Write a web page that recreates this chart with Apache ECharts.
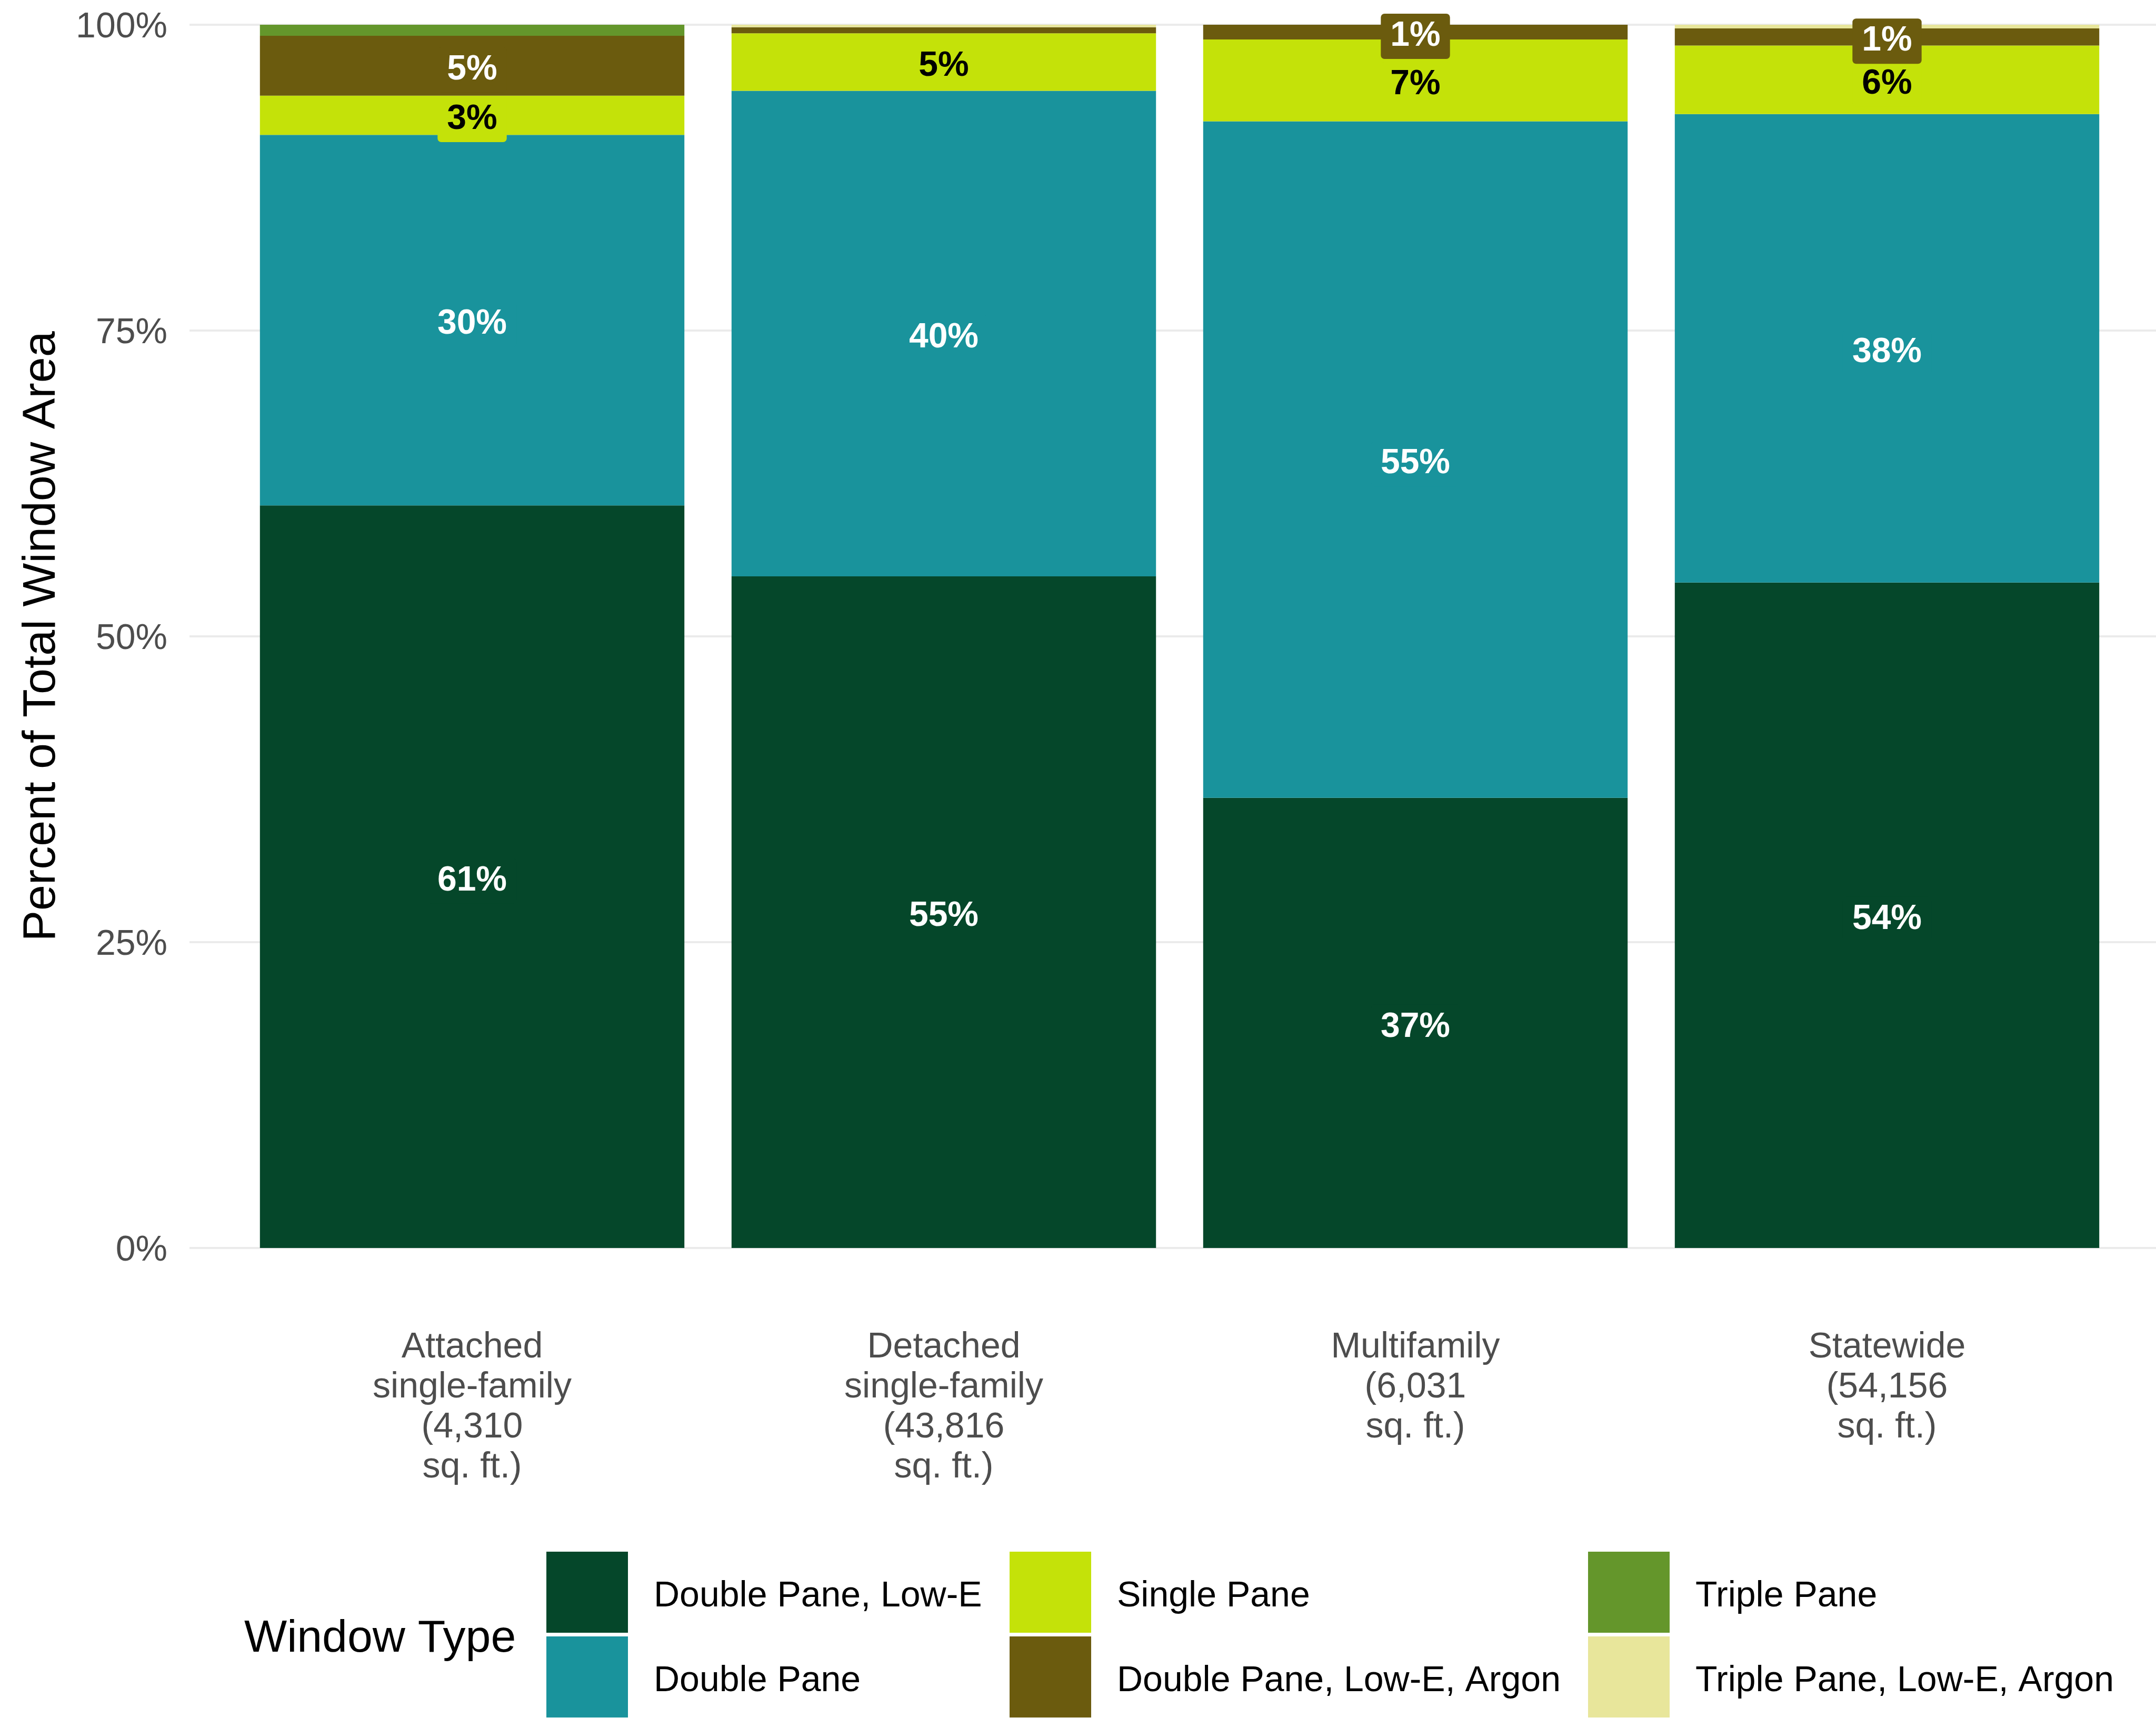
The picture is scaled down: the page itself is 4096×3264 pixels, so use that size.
<!DOCTYPE html>
<html>
<head>
<meta charset="utf-8">
<script src="https://cdn.jsdelivr.net/npm/echarts@6/dist/echarts.min.js"></script>
<style>
  html, body { margin: 0; padding: 0; background: #ffffff; }
  #chart { width: 4096px; height: 3264px; }
</style>
</head>
<body>
<div id="chart"></div>
<script>
// Building types on the x axis (with total window area in sq. ft.)
const categories = [
  'Attached\nsingle-family\n(4,310\nsq. ft.)',
  'Detached\nsingle-family\n(43,816\nsq. ft.)',
  'Multifamily\n(6,031\nsq. ft.)',
  'Statewide\n(54,156\nsq. ft.)'
];

// Share of total window area (%) by window type, per building type
const doublePaneLowE      = [60.7, 54.9, 36.8, 54.4];
const doublePane          = [30.3, 39.7, 55.3, 38.3];
const singlePane          = [3.2, 4.7, 6.7, 5.6];
const doublePaneLowEArgon = [4.9, 0.5, 1.2, 1.4];
const triplePane          = [0.9, 0, 0, 0];
const triplePaneLowEArgon = [0, 0.2, 0, 0.3];

// Percent axis ticks
const yTicks = [0, 25, 50, 75, 100];

const FONT = '"Liberation Sans", Arial, Helvetica, sans-serif';

// Stacking order, bottom to top
const seriesDefs = [
  { name: 'Double Pane, Low-E',        data: doublePaneLowE,      color: '#05472a', text: '#ffffff' },
  { name: 'Double Pane',               data: doublePane,          color: '#19939c', text: '#ffffff' },
  { name: 'Single Pane',               data: singlePane,          color: '#c4e209', text: '#000000' },
  { name: 'Double Pane, Low-E, Argon', data: doublePaneLowEArgon, color: '#6b5b0e', text: '#ffffff' },
  { name: 'Triple Pane',               data: triplePane,          color: '#64962b', text: '#ffffff' },
  { name: 'Triple Pane, Low-E, Argon', data: triplePaneLowEArgon, color: '#e8e69b', text: '#000000' }
];

const chart = echarts.init(document.getElementById('chart'), null, { renderer: 'canvas' });

const series = seriesDefs.map(function (s) {
  return {
    name: s.name,
    type: 'bar',
    stack: 'total',
    xAxisIndex: 0,
    yAxisIndex: 0,
    barWidth: '90%',
    itemStyle: { color: s.color, borderWidth: 0 },
    emphasis: { disabled: true },
    label: {
      position: 'inside',
      offset: [0, 8],
      formatter: function (p) { return Math.round(p.value) + '%'; },
      color: s.text,
      fontFamily: FONT,
      fontWeight: 'bold',
      fontSize: 66,
      lineHeight: 66,
      backgroundColor: s.color,
      padding: [10, 18],
      borderRadius: 7,
      textBorderWidth: 0
    },
    data: s.data.map(function (v) {
      return { value: v, label: { show: v >= 1 } };
    })
  };
});

// One legend column of two stacked keys
function legendColumn(names, left) {
  return {
    orient: 'vertical',
    left: left,
    top: 2948,
    height: 340,
    icon: 'rect',
    itemWidth: 155,
    itemHeight: 154,
    itemGap: 7,
    padding: 0,
    selectedMode: false,
    data: names,
    formatter: function (name) { return '{t|' + name + '}'; },
    textStyle: {
      fontFamily: FONT,
      fontSize: 68,
      color: '#000000',
      padding: [0, 0, 0, 44],
      rich: {
        t: { fontFamily: FONT, fontSize: 68, color: '#000000', padding: [16, 0, 0, 0] }
      }
    }
  };
}

const option = {
  backgroundColor: '#ffffff',
  animation: false,
  grid: [
    // bars
    { left: 449, right: 63, top: 47, bottom: 893, containLabel: false },
    // gridlines and percent labels (wider, like the panel)
    { left: 360, right: 0, top: 47, bottom: 893, containLabel: false }
  ],
  xAxis: [
    {
      type: 'category',
      gridIndex: 0,
      data: categories,
      axisLine: { show: false },
      axisTick: { show: false },
      splitLine: { show: false },
      axisLabel: {
        interval: 0,
        margin: 151,
        fontFamily: FONT,
        fontSize: 68,
        lineHeight: 76,
        color: '#4d4d4d',
        align: 'center'
      }
    },
    { type: 'value', gridIndex: 1, show: false, min: 0, max: 1 }
  ],
  yAxis: [
    { type: 'value', gridIndex: 0, min: 0, max: 100, show: false },
    {
      type: 'value',
      gridIndex: 1,
      min: yTicks[0],
      max: yTicks[yTicks.length - 1],
      interval: yTicks[1] - yTicks[0],
      name: 'Percent of Total Window Area',
      nameLocation: 'middle',
      nameRotate: 90,
      nameGap: 236,
      nameTextStyle: { fontFamily: FONT, fontSize: 88, color: '#000000' },
      axisLine: { show: false },
      axisTick: { show: false },
      axisLabel: {
        margin: 42,
        fontFamily: FONT,
        fontSize: 68,
        color: '#4d4d4d',
        formatter: function (v) { return '{v|' + v + '%}'; },
        rich: {
          v: { fontFamily: FONT, fontSize: 68, color: '#4d4d4d', padding: [10, 0, 0, 0] }
        }
      },
      splitLine: { show: true, lineStyle: { color: '#ebebeb', width: 4 } }
    }
  ],
  legend: [
    legendColumn(['Double Pane, Low-E', 'Double Pane'], 1038),
    legendColumn(['Single Pane', 'Double Pane, Low-E, Argon'], 1918),
    legendColumn(['Triple Pane', 'Triple Pane, Low-E, Argon'], 3017)
  ],
  graphic: [
    {
      type: 'text',
      left: 464,
      top: 3111 - 40,
      style: {
        text: 'Window Type',
        fontFamily: FONT,
        fontSize: 86,
        fill: '#000000'
      }
    }
  ],
  series: series
};

chart.setOption(option);
</script>
</body>
</html>
